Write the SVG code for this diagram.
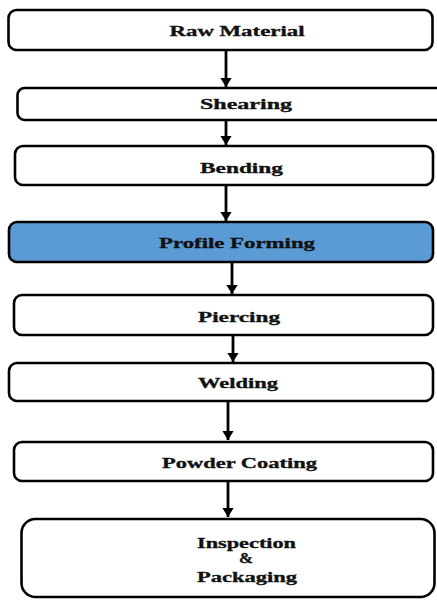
<svg xmlns="http://www.w3.org/2000/svg" width="437" height="601" viewBox="0 0 437 601">
<style>
.box{fill:#ffffff;stroke:#000;stroke-width:2.6}
.blue{fill:#5B9BD5}
.lbl{font-family:"Liberation Serif","Times New Roman",serif;font-weight:bold;font-size:14px;fill:#111;stroke:#111;stroke-width:0.3;text-anchor:middle}
.con line{stroke:#000;stroke-width:2.8}
</style>
<defs>
<marker id="ah" markerWidth="4" markerHeight="4" refX="3.2" refY="2" orient="auto" markerUnits="strokeWidth">
<path d="M0,0 L3.2,2 L0,4 Z" fill="#000"/>
</marker>
</defs>
<rect width="437" height="601" fill="#fff"/>
<g class="con">
<line x1="226" y1="51" x2="226" y2="87" marker-end="url(#ah)"/>
<line x1="226" y1="121" x2="226" y2="145" marker-end="url(#ah)"/>
<line x1="226" y1="186" x2="226" y2="221" marker-end="url(#ah)"/>
<line x1="232" y1="263" x2="232" y2="294" marker-end="url(#ah)"/>
<line x1="233" y1="335" x2="233" y2="362" marker-end="url(#ah)"/>
<line x1="228" y1="402" x2="228" y2="440" marker-end="url(#ah)"/>
<line x1="228" y1="482" x2="228" y2="517" marker-end="url(#ah)"/>
</g>
<g id="n1"><rect class="box" x="8.5" y="10" width="424" height="40" rx="8"/><text class="lbl" x="237" y="36" textLength="135" lengthAdjust="spacingAndGlyphs">Raw Material</text></g>
<g id="n2"><rect class="box" x="17.5" y="88" width="430" height="32" rx="7"/><text class="lbl" x="246" y="108.5" textLength="92" lengthAdjust="spacingAndGlyphs">Shearing</text></g>
<g id="n3"><rect class="box" x="15" y="146" width="418" height="39" rx="8"/><text class="lbl" x="241.5" y="172.5" textLength="83" lengthAdjust="spacingAndGlyphs">Bending</text></g>
<g id="n4"><rect class="box blue" x="9" y="222" width="424" height="40" rx="8"/><text class="lbl" x="237" y="247.5" textLength="156" lengthAdjust="spacingAndGlyphs">Profile Forming</text></g>
<g id="n5"><rect class="box" x="14" y="295" width="419" height="40" rx="8"/><text class="lbl" x="239" y="321.5" textLength="82" lengthAdjust="spacingAndGlyphs">Piercing</text></g>
<g id="n6"><rect class="box" x="9" y="363" width="424" height="38" rx="8"/><text class="lbl" x="238" y="387.5" textLength="80" lengthAdjust="spacingAndGlyphs">Welding</text></g>
<g id="n7"><rect class="box" x="14" y="442" width="419" height="39" rx="8"/><text class="lbl" x="239.5" y="467.5" textLength="155" lengthAdjust="spacingAndGlyphs">Powder Coating</text></g>
<g id="n8"><rect class="box" x="21.5" y="519" width="413" height="78" rx="14"/>
<text class="lbl" x="246.5" y="547.5" textLength="99" lengthAdjust="spacingAndGlyphs">Inspection</text>
<text class="lbl" x="246" y="562.5" textLength="14" lengthAdjust="spacingAndGlyphs">&amp;</text>
<text class="lbl" x="247" y="581.5" textLength="100" lengthAdjust="spacingAndGlyphs">Packaging</text></g>
</svg>
